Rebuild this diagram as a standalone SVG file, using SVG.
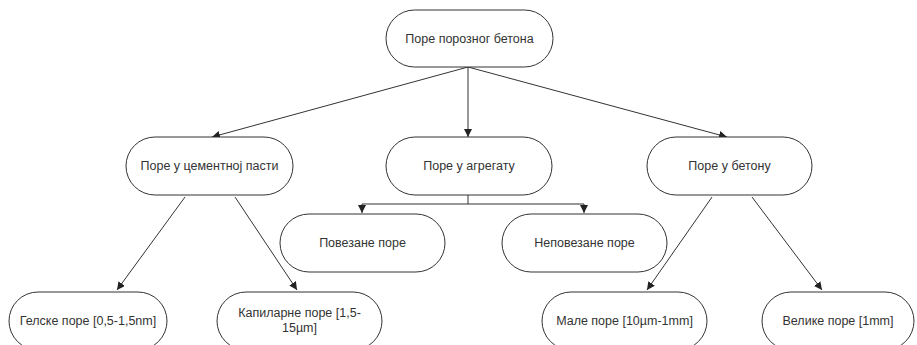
<svg xmlns="http://www.w3.org/2000/svg" width="917" height="345" viewBox="0 0 917 345">
<style>
.n{fill:#fff;stroke:#333;stroke-width:1}
.t{font-family:"Liberation Sans",Arial,sans-serif;font-size:12.5px;fill:#333;text-anchor:middle}
.c{stroke:#333;stroke-width:1;fill:none}
</style>
<defs>
<marker id="a" viewBox="0 0 10 10" refX="10" refY="5" markerWidth="8" markerHeight="8" markerUnits="userSpaceOnUse" orient="auto">
<path d="M0,0 L10,5 L0,10 z" fill="#222"/>
</marker>
</defs>
<rect width="917" height="345" fill="#fff"/>
<g id="connectors">
<line class="c" x1="468" y1="67" x2="212" y2="137" marker-end="url(#a)"/>
<line class="c" x1="468" y1="67" x2="468" y2="137" marker-end="url(#a)"/>
<line class="c" x1="468" y1="67" x2="727" y2="137" marker-end="url(#a)"/>
<polyline class="c" points="468,195 468,204"/>
<polyline class="c" points="468,204 362,204 362,213" marker-end="url(#a)"/>
<polyline class="c" points="468,204 584,204 584,213" marker-end="url(#a)"/>
<line class="c" x1="185" y1="197" x2="117" y2="290" marker-end="url(#a)"/>
<line class="c" x1="235" y1="197" x2="297" y2="290" marker-end="url(#a)"/>
<line class="c" x1="712" y1="197" x2="647" y2="290" marker-end="url(#a)"/>
<line class="c" x1="752" y1="197" x2="822" y2="290" marker-end="url(#a)"/>
</g>
<g id="n0"><rect class="n" x="386" y="10" width="167" height="57" rx="28.5"/><text class="t" x="469.5" y="43">Поре порозног бетона</text></g>
<g id="n1"><rect class="n" x="126" y="137" width="167" height="58" rx="29"/><text class="t" x="209.5" y="170">Поре у цементној пасти</text></g>
<g id="n2"><rect class="n" x="386" y="137" width="166" height="58" rx="29"/><text class="t" x="469" y="170">Поре у агрегату</text></g>
<g id="n3"><rect class="n" x="647" y="137" width="165" height="58" rx="29"/><text class="t" x="729.5" y="170">Поре у бетону</text></g>
<g id="n4"><rect class="n" x="280" y="214" width="165" height="58" rx="29"/><text class="t" x="362.5" y="247">Повезане поре</text></g>
<g id="n5"><rect class="n" x="502" y="214" width="165" height="58" rx="29"/><text class="t" x="584.5" y="247">Неповезане поре</text></g>
<g id="n6"><rect class="n" x="9" y="292" width="158" height="58" rx="29"/><text class="t" x="88" y="325">Гелске поре [0,5-1,5nm]</text></g>
<g id="n7"><rect class="n" x="217" y="292" width="165" height="58" rx="29"/><text class="t" x="299.5" y="317">Капиларне поре [1,5-</text><text class="t" x="299.5" y="332">15µm]</text></g>
<g id="n8"><rect class="n" x="542" y="292" width="165" height="58" rx="29"/><text class="t" x="624.5" y="325">Мале поре [10µm-1mm]</text></g>
<g id="n9"><rect class="n" x="762" y="292" width="152" height="58" rx="29"/><text class="t" x="838" y="325">Велике поре [1mm]</text></g>
</svg>
